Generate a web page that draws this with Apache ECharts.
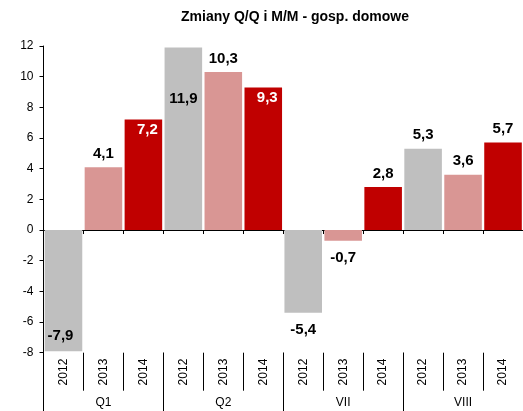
<!DOCTYPE html>
<html>
<head>
<meta charset="utf-8">
<script src="https://cdn.jsdelivr.net/npm/echarts@6/dist/echarts.min.js"></script>
<style>
  html, body { margin: 0; padding: 0; background: #fff; }
  #wykres { width: 523px; height: 411px; }
</style>
</head>
<body>
<div id="wykres"></div>
<script>
// Dane wykresu
const lata = ['2012', '2013', '2014', '2012', '2013', '2014', '2012', '2013', '2014', '2012', '2013', '2014'];
const okresy = ['Q1', 'Q2', 'VII', 'VIII'];
const zmiany = [-7.9, 4.1, 7.2, 11.9, 10.3, 9.3, -5.4, -0.7, 2.8, 5.3, 3.6, 5.7];

const kolory = ['#bfbfbf', '#d99694', '#c00000'];
const czcionka = '"Liberation Sans", Arial, sans-serif';

// pozycje etykiet jak w oryginale
function etykieta(v, i) {
	const base = { show: true, fontFamily: czcionka, fontSize: 15, fontWeight: 'bold', color: '#000' };
	if (i === 0) return { ...base, position: 'insideBottom', distance: 8, offset: [-3, 0] };
	if (i === 3) return { ...base, position: 'insideTop', distance: 44 };
	if (i === 2 || i === 5) return { ...base, position: 'insideTop', distance: 3, color: '#fff', offset: [4, 0] };
	if (v < 0) return { ...base, position: 'bottom', distance: 10 };
	return { ...base, position: 'top', distance: 6 };
}

const dane = zmiany.map((v, i) => ({
	value: v,
	itemStyle: { color: kolory[i % 3] },
	label: etykieta(v, i)
}));

const wykres = echarts.init(document.getElementById('wykres'));

// niewidoczna linia osi, same kreski podziału
const liniaUkryta = { show: true, onZero: false, lineStyle: { color: 'rgba(0,0,0,0)' } };

wykres.setOption({
	animation: false,
	title: {
		text: 'Zmiany Q/Q i M/M - gosp. domowe',
		left: 290,
		textAlign: 'center',
		top: 5,
		textStyle: { fontFamily: czcionka, fontSize: 14, fontWeight: 'bold', color: '#000' }
	},
	grid: { left: 43.5, top: 46, width: 489.6, height: 306.7 },
	xAxis: [
		{
			type: 'category',
			data: lata,
			position: 'bottom',
			axisLine: { onZero: true, lineStyle: { color: '#000', width: 1 } },
			axisTick: { show: true, length: 4, lineStyle: { color: '#000' } },
			axisLabel: { show: false }
		},
		{
			type: 'category',
			data: lata,
			position: 'bottom',
			axisLine: liniaUkryta,
			axisTick: { show: true, interval: 0, length: 38, lineStyle: { color: '#000' } },
			axisLabel: {
				rotate: 90, margin: 6, color: '#000',
				fontFamily: czcionka, fontSize: 12, interval: 0
			}
		},
		{
			type: 'category',
			data: okresy,
			position: 'bottom',
			axisLine: liniaUkryta,
			axisTick: { show: true, interval: 0, length: 60, lineStyle: { color: '#000' } },
			axisLabel: {
				margin: 44, color: '#000',
				fontFamily: czcionka, fontSize: 12, interval: 0
			}
		}
	],
	yAxis: {
		type: 'value',
		min: -8,
		max: 12,
		interval: 2,
		axisLine: { show: true, lineStyle: { color: '#000', width: 1 } },
		axisTick: { show: true, length: 4, lineStyle: { color: '#000' } },
		splitLine: { show: false },
		axisLabel: { margin: 10, color: '#000', fontFamily: czcionka, fontSize: 12 }
	},
	series: [{
		type: 'bar',
		xAxisIndex: 0,
		data: dane,
		barCategoryGap: '6%',
		label: {
			formatter: p => String(p.value).replace('.', ',')
		}
	}]
});
</script>
</body>
</html>
